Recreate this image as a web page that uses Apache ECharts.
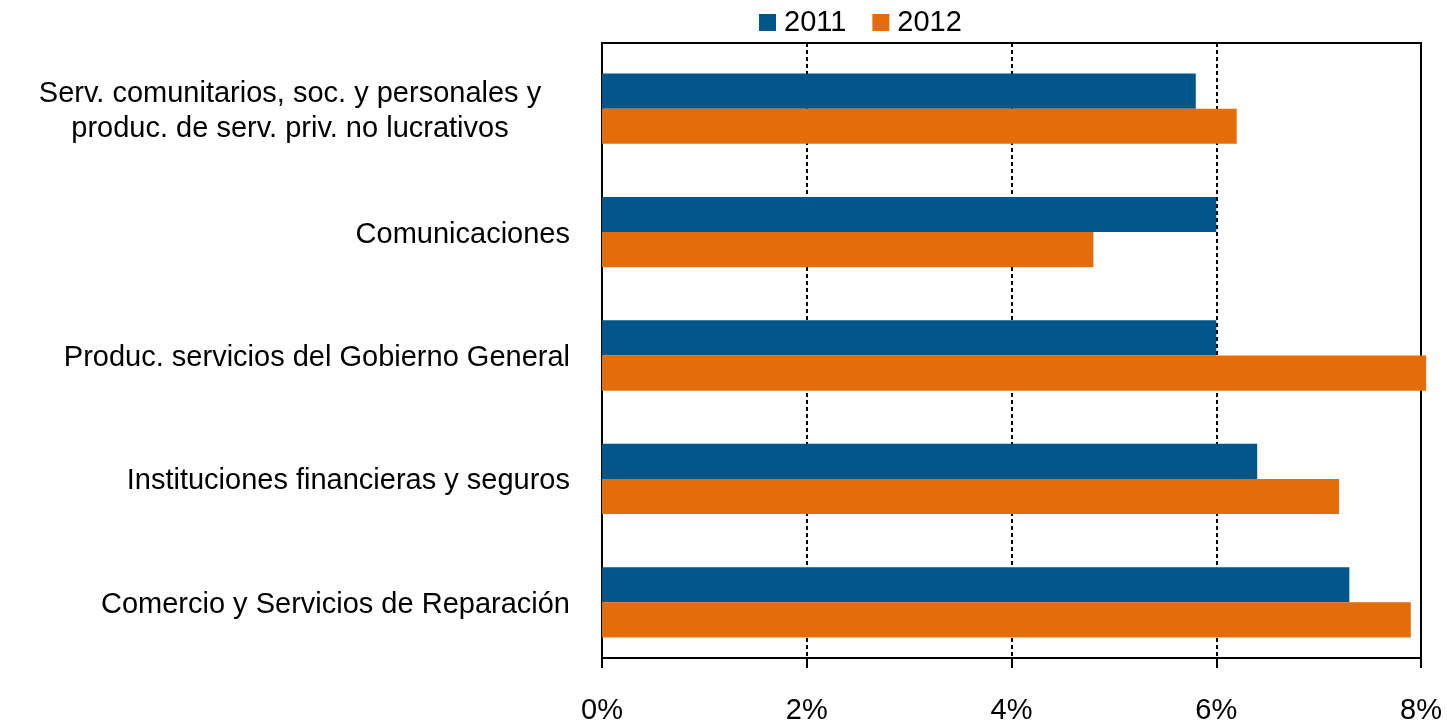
<!DOCTYPE html>
<html>
<head>
<meta charset="utf-8">
<script src="https://cdn.jsdelivr.net/npm/echarts@6/dist/echarts.min.js"></script>
<style>
  html, body { margin: 0; padding: 0; background: #fff; }
  #chart { width: 1447px; height: 725px; }
</style>
</head>
<body>
<div id="chart"></div>
<script>
// categories from top to bottom
const categories = [
  'Serv. comunitarios, soc. y personales y\nproduc. de serv. priv. no lucrativos',
  'Comunicaciones',
  'Produc. servicios del Gobierno General',
  'Instituciones financieras y seguros',
  'Comercio y Servicios de Reparación'
]
const values2011 = [5.8, 6.0, 6.0, 6.4, 7.3]
const values2012 = [6.2, 4.8, 8.05, 7.2, 7.9]
const xTicks = [0, 2, 4, 6, 8]

const FONT = '"Liberation Sans", Arial, sans-serif'
const FS = 29
const X_MIN = xTicks[0]
const X_MAX = xTicks[xTicks.length - 1]

const chart = echarts.init(document.getElementById('chart'))

chart.setOption({
  animation: false,
  color: ['#00558a', '#e36c0b'],
  textStyle: { fontFamily: FONT },
  legend: {
    top: 8,
    left: 759,
    padding: 0,
    itemWidth: 17,
    itemHeight: 17,
    itemGap: 26,
    icon: 'rect',
    textStyle: { fontSize: FS, color: '#000', fontFamily: FONT, padding: [0, 0, 0, 3] },
    data: ['2011', '2012']
  },
  // grid 0 holds the bars, grid 1 draws the plot frame and the value axis
  grid: [
    { left: 602, right: 26, top: 47, bottom: 61, containLabel: false },
    {
      left: 602, right: 26, top: 43, bottom: 63,
      show: true, borderColor: '#000', borderWidth: 2, containLabel: false
    }
  ],
  xAxis: [
    {
      gridIndex: 0,
      type: 'value',
      min: X_MIN,
      max: X_MAX,
      interval: 2,
      axisLine: { show: false },
      axisTick: { show: false },
      axisLabel: { show: false },
      splitLine: { show: false }
    },
    {
      gridIndex: 1,
      type: 'value',
      min: X_MIN,
      max: X_MAX,
      interval: 2,
      axisLine: { show: true, lineStyle: { color: '#000', width: 2 } },
      axisTick: { show: true, inside: false, length: 10, lineStyle: { color: '#000', width: 2 } },
      splitLine: { show: true, lineStyle: { color: '#000', width: 2, type: [4, 3] } },
      axisLabel: {
        margin: 38,
        fontSize: FS,
        color: '#000',
        fontFamily: FONT,
        formatter: v => v + '%'
      }
    }
  ],
  yAxis: [
    {
      gridIndex: 0,
      type: 'category',
      inverse: true,
      data: categories,
      axisLine: { show: false },
      axisTick: { show: false },
      axisLabel: {
        margin: 32,
        fontSize: FS,
        lineHeight: 35,
        padding: [5, 0, 0, 0],
        color: '#000',
        fontFamily: FONT,
        formatter: function (v) {
          if (v.indexOf('\n') < 0) return v
          return v.split('\n').map(s => '{c|' + s + '}').join('\n')
        },
        rich: {
          c: { width: 560, align: 'center', fontSize: FS, lineHeight: 35, color: '#000', fontFamily: FONT }
        }
      }
    },
    {
      gridIndex: 1,
      type: 'value',
      axisLine: { show: true, lineStyle: { color: '#000', width: 2 } },
      axisTick: { show: false },
      axisLabel: { show: false },
      splitLine: { show: false }
    }
  ],
  series: [
    {
      name: '2011',
      type: 'bar',
      xAxisIndex: 0,
      yAxisIndex: 0,
      data: values2011,
      barGap: '0%',
      barCategoryGap: '43%',
      clip: false,
      z: 3
    },
    {
      name: '2012',
      type: 'bar',
      xAxisIndex: 0,
      yAxisIndex: 0,
      data: values2012,
      barGap: '0%',
      barCategoryGap: '43%',
      clip: false,
      z: 3
    }
  ]
})
</script>
</body>
</html>
